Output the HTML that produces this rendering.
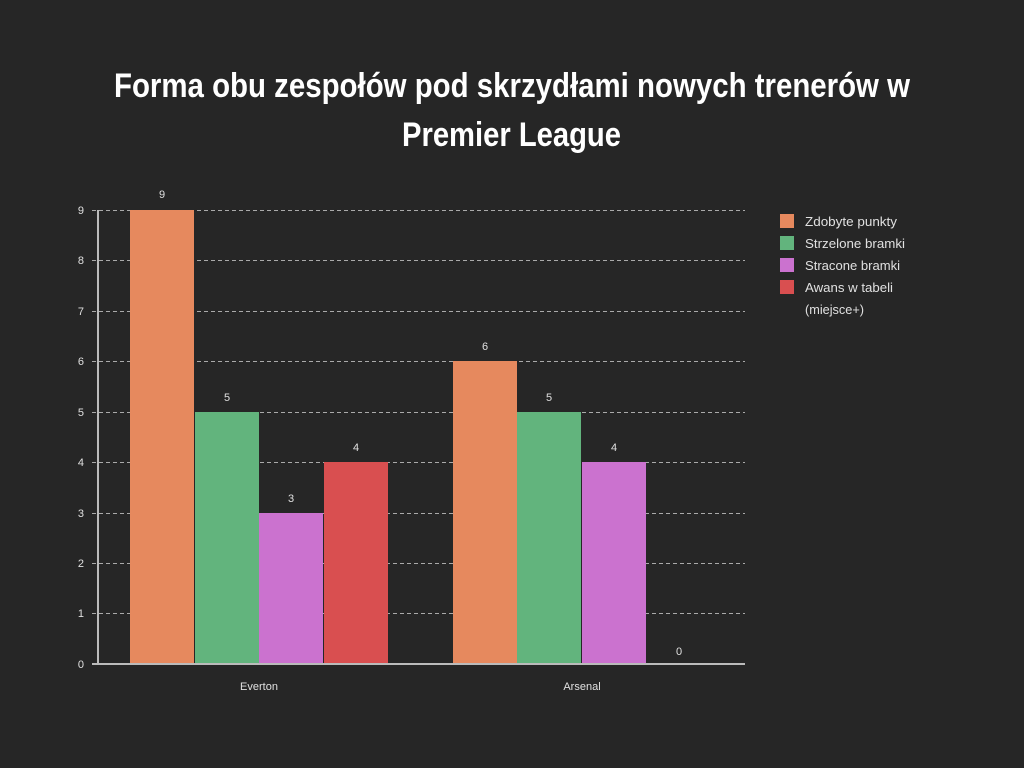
<!DOCTYPE html>
<html><head><meta charset="utf-8"><style>
html,body{margin:0;padding:0;background:#262626;}
svg{display:block;}
text{font-family:"Liberation Sans",sans-serif;fill:#e0e0e0;}
</style></head><body>
<svg width="1024" height="768" viewBox="0 0 1024 768">
<rect width="1024" height="768" fill="#262626"/>
<text x="114" y="97" font-size="34" font-weight="bold" style="fill:#fff" textLength="796" lengthAdjust="spacingAndGlyphs">Forma obu zespołów pod skrzydłami nowych trenerów w</text>
<text x="402" y="146" font-size="34" font-weight="bold" style="fill:#fff" textLength="219" lengthAdjust="spacingAndGlyphs">Premier League</text>
<g stroke="#aaa" stroke-width="1" stroke-dasharray="4,3">
<line x1="92" x2="745" y1="210.5" y2="210.5"/>
<line x1="92" x2="745" y1="260.5" y2="260.5"/>
<line x1="92" x2="745" y1="311.5" y2="311.5"/>
<line x1="92" x2="745" y1="361.5" y2="361.5"/>
<line x1="92" x2="745" y1="412.5" y2="412.5"/>
<line x1="92" x2="745" y1="462.5" y2="462.5"/>
<line x1="92" x2="745" y1="513.5" y2="513.5"/>
<line x1="92" x2="745" y1="563.5" y2="563.5"/>
<line x1="92" x2="745" y1="613.5" y2="613.5"/>
</g>
<g font-size="11" text-anchor="end">
<text x="84" y="214">9</text><text x="84" y="264">8</text><text x="84" y="315">7</text>
<text x="84" y="365">6</text><text x="84" y="416">5</text><text x="84" y="466">4</text>
<text x="84" y="517">3</text><text x="84" y="567">2</text><text x="84" y="617">1</text>
<text x="84" y="668">0</text>
</g>
<rect x="130" y="210" width="64" height="454" fill="#e6895e"/>
<rect x="195" y="412" width="64" height="252" fill="#62b47d"/>
<rect x="259" y="513" width="64" height="151" fill="#cb72cf"/>
<rect x="324" y="462" width="64" height="202" fill="#d94f50"/>
<rect x="453" y="361" width="64" height="303" fill="#e6895e"/>
<rect x="517" y="412" width="64" height="252" fill="#62b47d"/>
<rect x="582" y="462" width="64" height="202" fill="#cb72cf"/>
<g font-size="11" text-anchor="middle">
<text x="162" y="198">9</text><text x="227" y="401">5</text><text x="291" y="502">3</text><text x="356" y="451">4</text>
<text x="485" y="350">6</text><text x="549" y="401">5</text><text x="614" y="451">4</text><text x="679" y="655">0</text>
</g>
<line x1="98" x2="98" y1="210" y2="664" stroke="#bbb" stroke-width="2"/>
<line x1="92" x2="745" y1="664" y2="664" stroke="#bbb" stroke-width="2"/>
<text x="259" y="690" font-size="11" text-anchor="middle">Everton</text>
<text x="582" y="690" font-size="11" text-anchor="middle">Arsenal</text>
<rect x="780" y="214" width="14" height="14" fill="#e6895e"/>
<rect x="780" y="236" width="14" height="14" fill="#62b47d"/>
<rect x="780" y="258" width="14" height="14" fill="#cb72cf"/>
<rect x="780" y="280" width="14" height="14" fill="#d94f50"/>
<g font-size="13">
<text x="805" y="226" textLength="92" lengthAdjust="spacingAndGlyphs">Zdobyte punkty</text>
<text x="805" y="248" textLength="100" lengthAdjust="spacingAndGlyphs">Strzelone bramki</text>
<text x="805" y="270" textLength="95" lengthAdjust="spacingAndGlyphs">Stracone bramki</text>
<text x="805" y="292" textLength="88" lengthAdjust="spacingAndGlyphs">Awans w tabeli</text>
<text x="805" y="314" textLength="59" lengthAdjust="spacingAndGlyphs">(miejsce+)</text>
</g>
</svg>
</body></html>
